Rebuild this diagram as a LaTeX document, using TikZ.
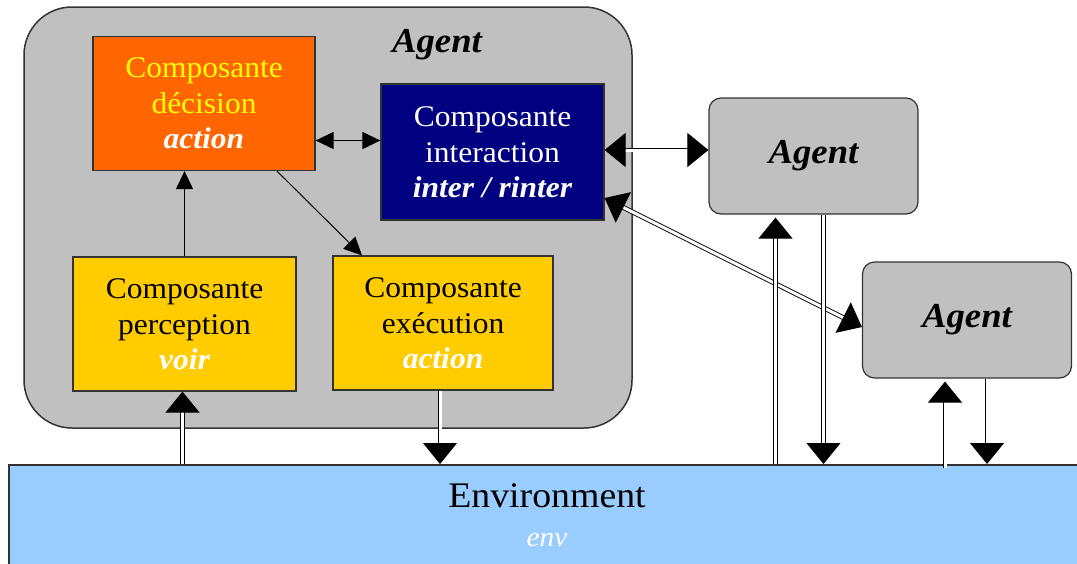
\documentclass[tikz,border=0pt]{standalone}
\usepackage{fontspec}
\setmainfont{Liberation Serif}[FakeStretch=1.05]
\usetikzlibrary{arrows.meta}
\definecolor{agentgray}{HTML}{C0C0C0}
\definecolor{decorange}{HTML}{FF6600}
\definecolor{internavy}{HTML}{000080}
\definecolor{compgold}{HTML}{FFCC00}
\definecolor{envblue}{HTML}{99CCFF}
\definecolor{textyellow}{HTML}{FFFF00}
\tikzset{
  compbox/.style={draw=black!80, line width=1.2pt, minimum width=#1, minimum height=134pt,
    inner sep=0pt, align=center, font=\fontsize{30}{36}\selectfont},
  agentbox/.style={draw=black!80, fill=agentgray, line width=1.2pt, rounded corners=12pt,
    minimum width=209pt, minimum height=116pt, inner sep=0pt,
    font=\fontsize{35}{40}\selectfont\bfseries\itshape},
  smalltip/.tip={Triangle[width=17pt,length=18pt]},
  bigtip/.tip={Triangle[width=34pt,length=21pt]},
  link/.style={line width=1pt, -smalltip},
  linkboth/.style={line width=1pt, smalltip-smalltip},
  flow/.style={line width=0.9pt, double, double distance=3pt, -bigtip},
  flowboth/.style={line width=0.9pt, double, double distance=3pt, bigtip-bigtip}
}
\begin{document}
\begin{tikzpicture}[x=1pt, y=-1pt]
\clip (0,0) rectangle (1077,563);
\fill[white] (0,0) rectangle (1077,563);

% main agent container
\draw[fill=agentgray, draw=black!80, line width=1.5pt, rounded corners=48pt]
  (24,7) rectangle (632,428);
\node[font=\fontsize{35}{40}\selectfont\bfseries\itshape] (title) at (437,45) {Agent};

% internal components
\node[compbox=222pt, fill=decorange, text=textyellow] (dec) at (204,103.5)
  {Composante\\décision\\[-1pt]{\bfseries\itshape\color{white}action}};
\node[compbox=223pt, minimum height=136pt, fill=internavy, text=white] (inter) at (492.5,152)
  {Composante\\interaction\\[-1pt]{\bfseries\itshape inter / rinter}};
\node[compbox=223pt, fill=compgold] (perc) at (184.5,324)
  {Composante\\perception\\[-1pt]{\bfseries\itshape\color{white}voir}};
\node[compbox=220pt, fill=compgold] (exec) at (443,323)
  {Composante\\exécution\\[-1pt]{\bfseries\itshape\color{white}action}};

% other agents
\node[agentbox] (ag2) at (813.5,156) {Agent};
\node[agentbox] (ag3) at (967,320) {Agent};

% environment
\node[draw=black!80, fill=envblue, line width=1.5pt, minimum width=1090pt,
  minimum height=120pt, inner sep=0pt, anchor=north west] (env) at (8,464) {};
\node[font=\fontsize{36}{40}\selectfont] (envname) at (547,496) {Environment};
\node[font=\fontsize{28}{32}\selectfont\itshape, text=white] (envfn) at (547,540) {env};

% links inside the agent
\draw[link] (perc.north) -- (perc.north |- dec.south);
\draw[link] ([xshift=73pt]dec.south) -- ([xshift=-81pt]exec.north);
\draw[linkboth] ([yshift=-37pt]dec.east) -- ([yshift=-37pt]dec.east -| inter.west);

% links between agents
\draw[flowboth] ([yshift=2pt]inter.east) -- ([yshift=2pt]inter.east -| ag2.west);
\draw[flowboth] ([yshift=-46pt]inter.east) -- ([yshift=-7pt]ag3.west);

% links with the environment
\draw[flow] ([xshift=-2pt]perc.south |- env.north) -- ([xshift=-2pt]perc.south);
\draw[flow] ([xshift=-3pt]exec.south) -- ([xshift=-3pt]exec.south |- env.north);
\draw[flow] ([xshift=-38pt]ag2.south |- env.north) -- ([xshift=-38pt,yshift=-3pt]ag2.south);
\draw[flow] ([xshift=10pt]ag2.south) -- ([xshift=10pt]ag2.south |- env.north);
\draw[flow] ([xshift=-22pt,yshift=-4pt]ag3.south |- env.north) -- ([xshift=-22pt,yshift=-3pt]ag3.south);
\draw[flow] ([xshift=20pt]ag3.south) -- ([xshift=20pt]ag3.south |- env.north);
\end{tikzpicture}
\end{document}
